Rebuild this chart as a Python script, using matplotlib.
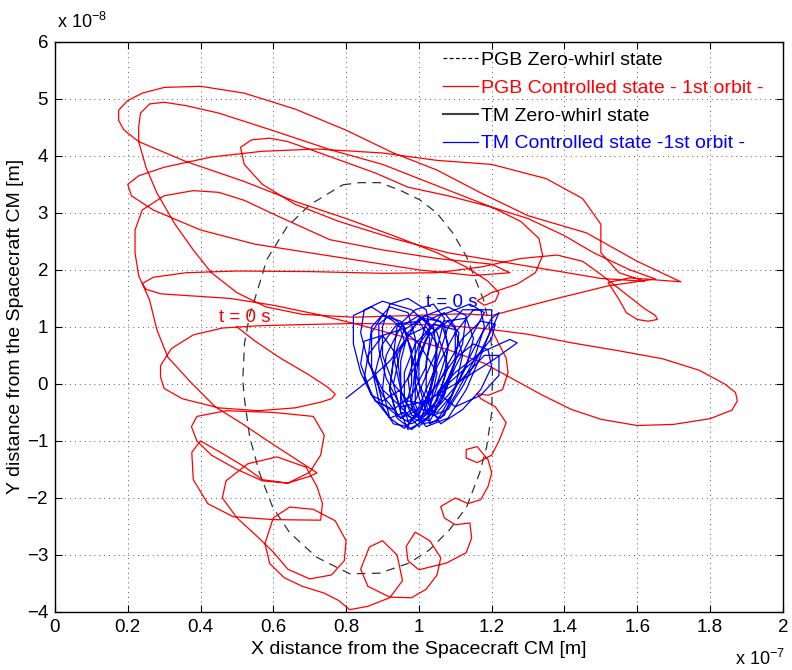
import numpy as np
import matplotlib
matplotlib.use("Agg")
import matplotlib.pyplot as plt
from matplotlib.lines import Line2D

plt.rcParams['font.family'] = ['Liberation Sans', 'DejaVu Sans']

# units: x in 1e-7 m, y in 1e-8 m

# PGB zero-whirl state (dashed closed curve)
zw = [(0.79, 3.49), (0.837, 3.53), (0.892, 3.53), (0.947, 3.40), (1.002, 3.23), (1.049, 3.00),
      (1.093, 2.65), (1.131, 2.23), (1.156, 1.82), (1.178, 1.47), (1.194, 1.00), (1.202, 0.51),
      (1.202, 0.07), (1.200, -0.51), (1.186, -1.11), (1.167, -1.56), (1.131, -2.16), (1.084, -2.56),
      (1.029, -2.91), (0.974, -3.14), (0.892, -3.32), (0.810, -3.33), (0.719, -3.04), (0.645, -2.61),
      (0.598, -2.16), (0.562, -1.56), (0.535, -0.93), (0.521, -0.28), (0.516, 0.07), (0.521, 0.72),
      (0.535, 1.21), (0.557, 1.65), (0.582, 2.18), (0.637, 2.75), (0.700, 3.14), (0.79, 3.49)]

# PGB controlled state, first orbit (red)
seg_start = [(0.50, 1.00), (0.55, 0.75), (0.62, 0.45), (0.70, 0.15), (0.75, -0.06), (0.77, -0.18),
             (0.76, -0.26), (0.73, -0.32), (0.66, -0.42), (0.56, -0.47), (0.45, -0.42), (0.35, -0.26),
             (0.30, -0.08), (0.29, 0.12), (0.29, 0.32), (0.32, 0.62), (0.38, 0.86), (0.46, 0.98),
             (0.56, 1.02), (0.68, 1.04), (0.82, 1.06), (0.96, 1.05), (1.08, 1.02), (1.18, 0.97)]
seg_lobe = [(1.30, 0.87), (1.42, 0.72), (1.55, 0.58), (1.67, 0.44), (1.77, 0.24), (1.84, 0.0),
            (1.87, -0.15), (1.875, -0.3), (1.86, -0.46), (1.80, -0.61), (1.70, -0.71), (1.60, -0.73),
            (1.50, -0.62), (1.42, -0.45), (1.34, -0.2), (1.26, 0.08), (1.18, 0.36), (1.08, 0.6),
            (0.96, 0.82), (0.84, 1.03), (0.72, 1.22), (0.6, 1.38), (0.48, 1.5), (0.36, 1.55),
            (0.29, 1.58), (0.25, 1.66), (0.24, 1.76)]
seg_tip = [(0.27, 1.87), (0.36, 1.95), (0.5, 1.98), (0.7, 1.97), (0.9, 1.94), (1.05, 1.95), (1.17, 2.05),
           (1.28, 2.2), (1.38, 2.26), (1.45, 2.15), (1.5, 1.92), (1.56, 1.62), (1.62, 1.32), (1.65, 1.2),
           (1.655, 1.13), (1.63, 1.1), (1.6, 1.13), (1.57, 1.25), (1.55, 1.48), (1.52, 1.78), (1.58, 1.86),
           (1.66, 1.82), (1.72, 1.79)]
seg_outer = [(1.6, 2.15), (1.46, 2.65), (1.3, 2.95), (1.17, 3.35), (1.05, 3.75), (0.93, 4.05), (0.8, 4.45),
             (0.66, 4.82), (0.52, 5.1), (0.40, 5.22), (0.30, 5.2), (0.24, 5.1), (0.2, 4.97), (0.175, 4.8),
             (0.175, 4.62), (0.19, 4.45), (0.23, 4.25), (0.36, 3.9), (0.52, 3.55), (0.66, 3.2), (0.8, 2.9),
             (0.93, 2.6), (1.05, 2.3), (1.13, 2.05), (1.19, 1.8), (1.22, 1.6), (1.21, 1.45), (1.18, 1.38),
             (1.16, 1.46), (1.2, 1.6)]
seg_steep = [(1.27, 1.75), (1.32, 1.95), (1.34, 2.25), (1.33, 2.55), (1.28, 2.85), (1.2, 3.1), (1.1, 3.35),
             (1.0, 3.6), (0.9, 3.85), (0.76, 4.1), (0.61, 4.42), (0.45, 4.75), (0.36, 4.88), (0.3, 4.94),
             (0.26, 4.91), (0.235, 4.75), (0.23, 4.5), (0.23, 4.25), (0.25, 3.8), (0.28, 3.35), (0.33, 2.8),
             (0.38, 2.35), (0.43, 1.95), (0.5, 1.6), (0.58, 1.35), (0.68, 1.22), (0.82, 1.17), (0.98, 1.2),
             (1.12, 1.23), (1.2, 1.2)]
seg_u4 = [(1.38, 1.5), (1.52, 1.72), (1.65, 1.84), (1.58, 2.0), (1.48, 2.3), (1.4, 2.6), (1.3, 2.9),
          (1.2, 3.1), (1.08, 3.3), (0.97, 3.45), (0.88, 3.7), (0.75, 4.0), (0.64, 4.25), (0.59, 4.31),
          (0.54, 4.28), (0.51, 4.15), (0.52, 3.85), (0.57, 3.5), (0.66, 3.15), (0.78, 2.85), (0.93, 2.55),
          (1.08, 2.3), (1.22, 2.15), (1.36, 2.0), (1.5, 1.85), (1.62, 1.8)]
seg_u3 = [(1.55, 1.95), (1.5, 2.3), (1.5, 2.8), (1.45, 3.25), (1.35, 3.6), (1.2, 3.85), (1.05, 3.92),
          (0.9, 4.05), (0.72, 4.12), (0.57, 4.08), (0.43, 3.98), (0.3, 3.8), (0.23, 3.65), (0.2, 3.5),
          (0.21, 3.3), (0.27, 3.05), (0.4, 2.7), (0.55, 2.45), (0.7, 2.3), (0.85, 2.15), (1.0, 2.0),
          (1.15, 1.9), (1.25, 1.95), (1.2, 2.1), (1.05, 2.2), (0.9, 2.35), (0.755, 2.53), (0.61, 2.95),
          (0.52, 3.22), (0.45, 3.36), (0.38, 3.39), (0.3, 3.3), (0.24, 3.05), (0.22, 2.7), (0.22, 2.3),
          (0.23, 1.9), (0.26, 1.47)]
seg_diag = [(0.28, 0.95), (0.31, 0.47), (0.37, 0.05), (0.44, -0.4), (0.52, -0.72), (0.58, -0.98),
            (0.65, -1.27), (0.72, -1.56), (0.70, -1.62), (0.64, -1.74), (0.57, -1.7), (0.5, -1.5),
            (0.43, -1.25), (0.39, -1.0), (0.375, -0.75), (0.39, -0.57), (0.47, -0.47), (0.6, -0.5),
            (0.71, -0.57), (0.74, -0.9), (0.73, -1.25)]
seg_bottom = [(0.70, -1.55), (0.64, -1.74), (0.57, -1.68), (0.52, -1.45), (0.46, -1.22), (0.40, -1.0),
              (0.376, -1.2), (0.38, -1.68), (0.42, -2.1), (0.49, -2.33), (0.6, -2.38), (0.73, -2.39),
              (0.735, -2.1), (0.72, -1.8), (0.69, -1.46), (0.61, -1.28), (0.53, -1.4), (0.47, -1.7),
              (0.46, -2.0), (0.5, -2.35), (0.56, -2.7), (0.6, -2.95), (0.64, -3.25), (0.7, -3.42),
              (0.76, -3.35), (0.795, -3.1), (0.8, -2.75), (0.77, -2.4), (0.71, -2.2), (0.645, -2.16),
              (0.6, -2.35), (0.577, -2.8), (0.59, -3.15), (0.63, -3.4), (0.68, -3.55), (0.74, -3.67),
              (0.78, -3.8), (0.81, -3.96), (0.86, -3.9), (0.92, -3.75), (0.955, -3.45), (0.94, -3.0),
              (0.9, -2.75), (0.864, -2.86), (0.84, -3.25), (0.86, -3.55), (0.92, -3.74), (0.98, -3.75),
              (1.02, -3.6), (1.05, -3.35), (1.06, -3.05), (1.03, -2.75), (0.99, -2.6), (0.965, -2.85),
              (0.97, -3.1), (1.0, -3.26), (1.076, -3.14), (1.13, -2.96), (1.145, -2.7), (1.14, -2.44),
              (1.1, -2.47), (1.07, -2.35), (1.06, -2.15), (1.1, -2.0), (1.135, -2.1), (1.17, -2.03),
              (1.19, -1.8), (1.2, -1.56), (1.19, -1.33), (1.16, -1.1), (1.13, -1.15), (1.13, -1.3),
              (1.16, -1.38), (1.2, -1.25), (1.22, -1.0), (1.24, -0.68), (1.21, -0.4), (1.17, -0.26),
              (1.16, -0.17), (1.19, -0.2), (1.23, -0.1), (1.245, 0.2), (1.24, 0.45), (1.22, 0.7), (1.2, 0.95)]
red_segments = [seg_start, seg_lobe, seg_tip, seg_outer, seg_steep, seg_u4, seg_u3, seg_diag, seg_bottom]

# TM controlled state, first orbit (blue)
tm_path = [(0.80, -0.25), (0.86, 0.05), (0.92, 0.4), (0.96, 0.75), (0.95, 0.95), (0.9, 0.85), (0.86, 0.5),
           (0.85, 0.1), (0.88, -0.3), (0.93, -0.45), (0.98, -0.2), (1.02, 0.3), (1.03, 0.8), (1.0, 1.1),
           (0.94, 1.05), (0.9, 0.7), (0.88, 0.2), (0.9, -0.35), (0.95, -0.6), (1.0, -0.45), (1.05, 0.0),
           (1.08, 0.6), (1.07, 1.05), (1.02, 1.2), (0.96, 0.95), (0.93, 0.45), (0.92, -0.1), (0.94, -0.55),
           (0.98, -0.7), (1.03, -0.5), (1.08, 0.1), (1.12, 0.7), (1.13, 1.2), (1.08, 1.35), (1.0, 1.15),
           (0.95, 0.6), (0.93, 0.0), (0.95, -0.5), (1.0, -0.65), (1.06, -0.3), (1.1, 0.3), (1.15, 0.9),
           (1.18, 1.25), (1.14, 1.4), (1.06, 1.2), (1.0, 0.7), (0.97, 0.1), (0.98, -0.4), (1.02, -0.75),
           (1.08, -0.6), (1.13, -0.1), (1.17, 0.5), (1.2, 1.0), (1.2, 1.3), (1.15, 1.3), (1.1, 0.9),
           (1.05, 0.3), (1.02, -0.3), (1.03, -0.7), (1.07, -0.55), (1.1, -0.05), (1.12, 0.5), (1.1, 0.95),
           (1.04, 1.05), (0.99, 0.7), (0.96, 0.2), (0.96, -0.3), (1.0, -0.6), (1.05, -0.3), (1.08, 0.3),
           (1.05, 0.9), (0.98, 1.3), (0.9, 1.45), (0.85, 1.3), (0.84, 0.9), (0.86, 0.4), (0.9, -0.1),
           (0.95, -0.4), (1.02, -0.3), (1.1, 0.0), (1.2, 0.4), (1.27, 0.72), (1.25, 0.78), (1.17, 0.55),
           (1.1, 0.2), (1.05, -0.15), (1.1, -0.4), (1.17, -0.2), (1.22, 0.15), (1.22, 0.5), (1.18, 0.5),
           (1.12, 0.1), (1.06, -0.35), (1.02, -0.6), (0.98, -0.8), (0.94, -0.6), (0.92, -0.1), (0.93, 0.4),
           (0.97, 0.85), (1.02, 1.0), (1.05, 0.7), (1.04, 0.2), (1.0, -0.4), (0.97, -0.75), (0.93, -0.7),
           (0.89, -0.3), (0.87, 0.3), (0.87, 0.9), (0.9, 1.2), (0.95, 1.1), (0.98, 0.6), (0.98, 0.0),
           (0.96, -0.5), (0.92, -0.6), (0.87, -0.2), (0.84, 0.35), (0.85, 0.75), (0.9, 0.85), (0.94, 0.5),
           (0.95, 0.0), (0.95, -0.5), (0.97, -0.8), (1.0, -0.7), (1.03, -0.2), (1.05, 0.4), (1.08, 1.0),
           (1.12, 1.3), (1.17, 1.3), (1.18, 1.0), (1.15, 0.4), (1.1, -0.2), (1.06, -0.6), (1.02, -0.5),
           (1.0, 0.0), (1.0, 0.6), (1.02, 1.1), (1.07, 1.25), (1.1, 1.0), (1.1, 0.4), (1.07, -0.2),
           (1.03, -0.65), (0.98, -0.55), (0.95, -0.1), (0.93, 0.5), (0.94, 1.0), (0.99, 1.3), (1.04, 1.4),
           (1.07, 1.15), (1.05, 0.6), (1.01, 0.0), (0.98, -0.45), (0.95, -0.6), (0.9, -0.2), (0.86, 0.4),
           (0.87, 1.0), (0.92, 1.35), (0.97, 1.25), (0.99, 0.8), (0.99, 0.2), (0.99, -0.35), (1.01, -0.7),
           (1.05, -0.65), (1.09, -0.2), (1.13, 0.35), (1.17, 0.85), (1.2, 1.15), (1.22, 1.25), (1.2, 0.95),
           (1.16, 0.45), (1.12, -0.05), (1.08, -0.45), (1.04, -0.55), (1.02, -0.1), (1.02, 0.4), (1.04, 0.9),
           (1.08, 1.1), (1.11, 0.9), (1.1, 0.4), (1.07, -0.1), (1.04, -0.5), (1.0, -0.75), (0.95, -0.4),
           (0.91, 0.1), (0.89, 0.6), (0.89, 1.05), (0.92, 1.2), (0.96, 1.0), (0.98, 0.5), (1.0, 0.0),
           (1.03, -0.4), (1.05, 0.2), (1.0, 0.7), (0.93, 1.1), (0.87, 1.35), (0.82, 1.2), (0.82, 0.7),
           (0.84, 0.2), (0.87, -0.2), (0.9, -0.3), (0.95, -0.1), (1.0, 0.4), (1.03, 0.95), (1.02, 1.3),
           (0.97, 1.5), (0.92, 1.4), (0.9, 1.0), (0.9, 0.5), (0.93, 0.0), (0.97, -0.3), (1.02, -0.35),
           (1.08, 0.0), (1.15, 0.4), (1.2, 0.8), (1.21, 1.05), (1.17, 1.1), (1.12, 0.8), (1.08, 0.35),
           (1.05, -0.05), (1.03, -0.4), (1.06, -0.7), (1.12, -0.45), (1.17, -0.1), (1.2, 0.3), (1.19, 0.6),
           (1.15, 0.7), (1.1, 0.45), (1.05, 0.0), (1.0, -0.5), (0.96, -0.78), (0.92, -0.6), (0.9, -0.1),
           (0.91, 0.5), (0.95, 1.0), (1.0, 1.2), (1.04, 1.0), (1.05, 0.5), (1.03, -0.1), (1.0, -0.55),
           (0.97, -0.65), (0.95, -0.2), (0.95, 0.4), (0.97, 0.9), (1.01, 1.15), (1.06, 1.1), (1.08, 0.7),
           (1.07, 0.1), (1.04, -0.4), (1.0, -0.6), (0.98, -0.3), (0.99, 0.3), (1.02, 0.8), (1.07, 1.1),
           (1.13, 1.15), (1.15, 0.8), (1.13, 0.3), (1.09, -0.2), (1.05, -0.5), (1.01, -0.45), (0.99, 0.0),
           (1.0, 0.5), (1.03, 0.9)]

xticks = [0, 0.2, 0.4, 0.6, 0.8, 1, 1.2, 1.4, 1.6, 1.8, 2]
xticklabels = ['0', '0.2', '0.4', '0.6', '0.8', '1', '1.2', '1.4', '1.6', '1.8', '2']
yticks = [-4, -3, -2, -1, 0, 1, 2, 3, 4, 5, 6]
legend_labels = ['PGB Zero-whirl state', 'PGB Controlled state - 1st orbit -',
                 'TM Zero-whirl state', 'TM Controlled state -1st orbit -']

fig = plt.figure(figsize=(7.92, 6.70), dpi=100)
ax = fig.add_axes([0.0694, 0.0866, 0.919, 0.851])

zw = np.array(zw)
ax.plot(zw[:, 0], zw[:, 1], color='0.2', lw=0.9, ls=(0, (7, 5)))

red = np.array([p for seg in red_segments for p in seg])
ax.plot(red[:, 0], red[:, 1], color='red', lw=0.9, solid_joinstyle='round')

tm = np.array(tm_path)
ax.plot(tm[:, 0], tm[:, 1], color='blue', lw=0.9, solid_joinstyle='round')

ax.text(0.521, 1.16, 't = 0 s', color='red', fontsize=13.5, ha='center', va='center')
ax.text(1.09, 1.42, 't = 0 s', color='blue', fontsize=13.5, ha='center', va='center')

ax.set_xlim(0, 2)
ax.set_ylim(-4, 6)
ax.set_xticks(xticks)
ax.set_xticklabels(xticklabels)
ax.set_yticks(yticks)
ax.tick_params(direction='in', top=True, right=True, length=5, labelsize=13.5, pad=5)
ax.grid(True, color='0.35', ls=(0, (1, 4)), lw=0.7)
for s in ax.spines.values():
    s.set_linewidth(1.0)

ax.set_xlabel('X distance from the Spacecraft CM [m]', fontsize=14, labelpad=4)
ax.set_ylabel('Y distance from the Spacecraft CM [m]', fontsize=14, labelpad=2)

fig.text(0.072, 0.958, r'x 10$^{\mathregular{-8}}$', fontsize=13)
fig.text(0.928, 0.008, r'x 10$^{\mathregular{-7}}$', fontsize=13)

handles = [Line2D([], [], color='k', lw=0.9, ls=(0, (3, 2))),
           Line2D([], [], color='red', lw=0.9),
           Line2D([], [], color='0.25', lw=1.5),
           Line2D([], [], color='blue', lw=0.9)]
ax.legend(handles, legend_labels, loc='upper left', bbox_to_anchor=(0.52, 1.0), frameon=False,
          fontsize=14, handlelength=1.8, handletextpad=0.15, labelspacing=0.52, borderaxespad=0.1,
          labelcolor=['k', 'red', 'k', 'blue'])

fig.savefig('out.png', dpi=100)
